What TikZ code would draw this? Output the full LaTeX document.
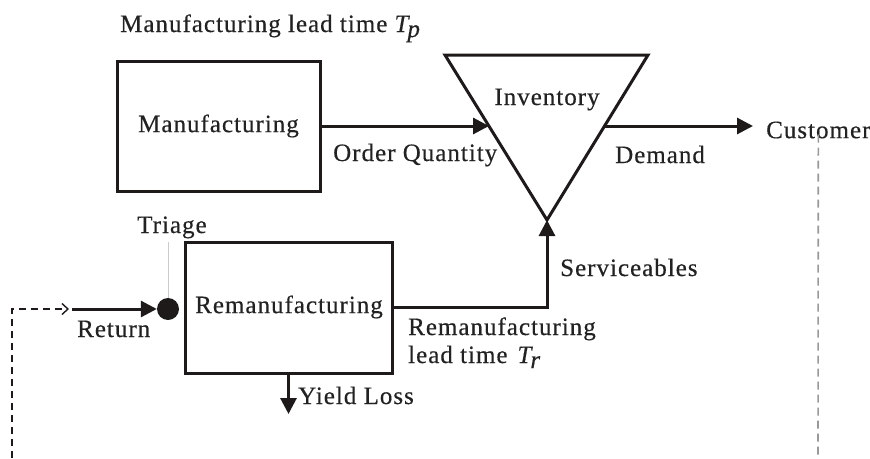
\documentclass[tikz,border=0pt]{standalone}
\usepackage{fontspec}
\setmainfont{Liberation Serif}[LetterSpace=4, FakeBold=0.4]
\usetikzlibrary{arrows.meta}
\definecolor{ink}{HTML}{1E1A1A}
\definecolor{txt}{HTML}{222222}
\begin{document}
\begin{tikzpicture}[x=1pt,y=-1pt,
  every node/.style={font=\fontsize{25}{30}\selectfont, text=txt},
  lbl/.style={anchor=base west, inner sep=0pt},
  procbox/.style={draw=ink, line width=3pt, inner sep=0pt},
  flow/.style={draw=ink, line width=3pt, -{Triangle[length=16pt,width=16pt]}},
  loopdash/.style={draw=ink, line width=1.4pt, dash pattern=on 7pt off 5pt},
  custdash/.style={draw=gray!80, line width=1.6pt, dash pattern=on 8pt off 5pt},
]
\useasboundingbox (0,0) rectangle (870,458);

% title
\node[lbl] (title) at (120,32) {Manufacturing lead time \textit{T\kern-1pt\raisebox{-5pt}{p}}};

% boxes
\node[procbox, minimum width=203pt, minimum height=130pt] (mfg) at (218.5,126) {Manufacturing};
\node[procbox, minimum width=207pt, minimum height=131pt] (reman) at (288.5,307.5) {};
\node[anchor=center, inner sep=0pt] (remantext) at (289,307) {Remanufacturing};

% inventory triangle
\coordinate (tl) at (445,55);
\coordinate (tr) at (648,55);
\coordinate (apex) at (547,220);
\draw[ink, line width=3pt, line join=miter] (tl) -- (tr) -- (apex) -- cycle;
\node[anchor=base, inner sep=0pt] (inv) at (547,105) {Inventory};
\coordinate (qin) at (489,126);
\coordinate (qout) at (604,126);

% manufacturing -> inventory
\draw[flow] (mfg.east) -- (qin);
\node[lbl] (oq) at (333,161) {Order Quantity};

% inventory -> customer
\node[anchor=west, inner sep=0pt] (cust) at (766,130) {Customer};
\coordinate (custin) at (753,126);
\draw[flow] (qout) -- (custin);
\node[lbl] (dem) at (615,163) {Demand};

% customer dashed return
\coordinate (custbot) at (818,458);
\draw[custdash] ([yshift=4pt]cust.south) -- (custbot);

% left dashed loop
\coordinate (lbot) at (12,458);
\coordinate (lcorner) at (12,309);
\coordinate (ldash) at (69,309);
\draw[loopdash, -{Straight Barb[length=6pt,width=11pt,line width=1.4pt]}] (lbot) -- (lcorner) -- (ldash);

% triage dot
\node[circle, fill=ink, inner sep=0pt, minimum size=22pt] (dot) at (168,309) {};
\coordinate (retstart) at (72,309);
\draw[flow] (retstart) -- (dot.west);
\node[lbl] (ret) at (77,337) {Return};
\node[anchor=base, inner sep=0pt] (triage) at (172,233) {Triage};
\coordinate (triagetop) at (168,242);
\draw[gray!40, line width=1pt] (dot.north) -- (triagetop);

% reman -> inventory
\draw[flow] (reman.east) -| (apex);
\node[lbl] (serv) at (560,276) {Serviceables};
\node[lbl] (rlt1) at (408,335) {Remanufacturing};
\node[lbl] (rlt2) at (408,363) {lead time\hspace{10pt}\textit{T\kern-1pt\raisebox{-5pt}{r}}};

% yield loss
\coordinate (yl) at (288.5,414);
\draw[flow] (reman.south) -- (yl);
\node[lbl] (yloss) at (298,404) {Yield Loss};
\end{tikzpicture}
\end{document}
